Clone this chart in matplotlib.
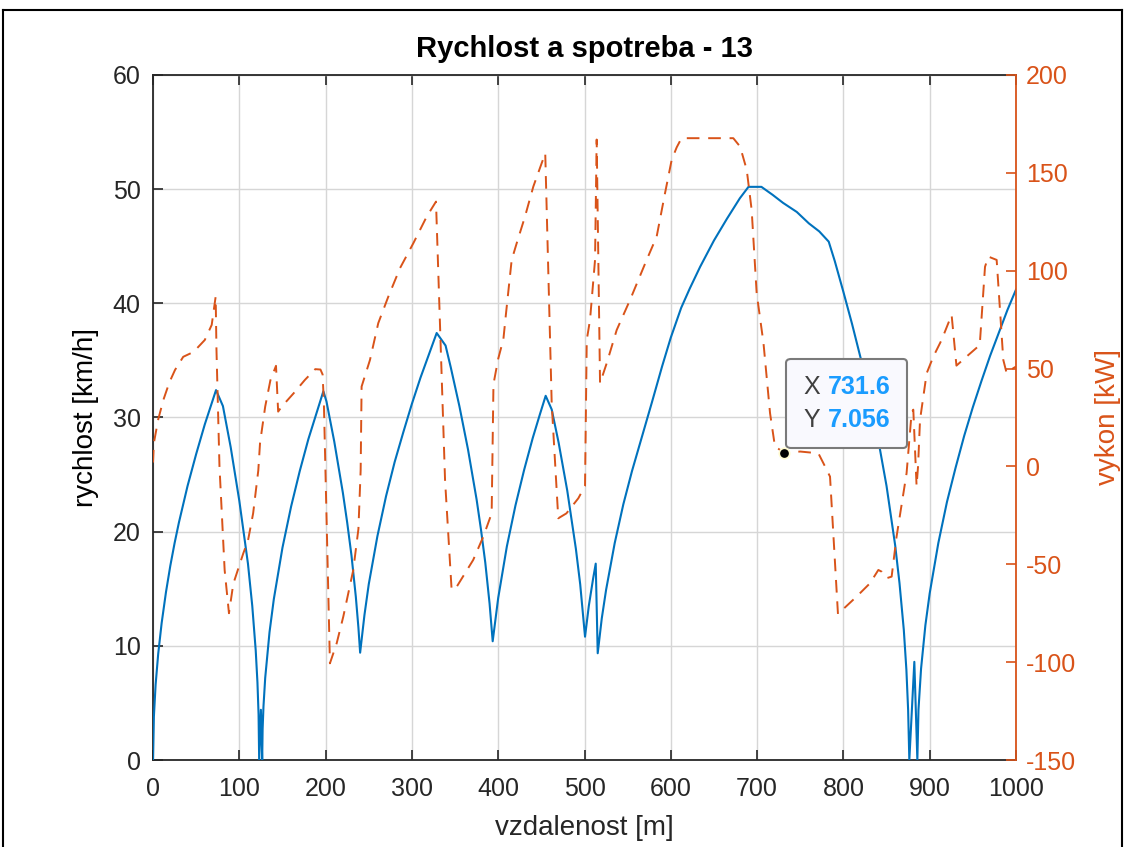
import matplotlib
matplotlib.use('Agg')
import matplotlib.pyplot as plt
from matplotlib.lines import Line2D
from matplotlib.offsetbox import TextArea, HPacker, VPacker, AnnotationBbox

plt.rcParams['font.family'] = ['Liberation Sans', 'DejaVu Sans']
plt.rcParams['axes.unicode_minus'] = False

# speed profile along the track
dist_v = [0, 1, 3, 6, 10, 15, 20, 25, 30, 40, 50, 60, 73, 81, 90, 100, 110, 115, 119, 121, 122.3, 123,
          125, 126.5, 127, 128, 130, 135, 140, 150, 160, 170, 180, 190, 197.4, 201, 210, 220, 225, 230,
          235, 238, 240, 245, 250, 260, 270, 280, 290, 300, 310, 320, 328.7, 339, 345, 355, 365, 375,
          380, 385, 390, 393.6, 400, 410, 420, 430, 440, 448, 455, 462, 470, 480, 490, 495, 500.6, 505,
          510, 513, 515.3, 520, 525, 535, 545, 555, 565, 578, 590, 600, 612, 622, 634, 650, 665, 680,
          690, 705, 718, 730, 746, 760, 772, 783, 790, 800, 810, 820, 830, 840, 850, 860, 865, 870, 873,
          875, 876.4, 882.2, 885.7, 887, 890, 895, 900, 910, 920, 930, 940, 950, 960, 970, 980, 990, 1000]
speed = [0, 3.8, 6.6, 9.3, 12.0, 14.7, 17.0, 19.0, 20.8, 24.0, 26.8, 29.4, 32.4, 31.0, 27.4, 22.7, 17.2,
         13.5, 9.6, 6.8, 4.0, 0, 4.4, 0, 2.7, 4.7, 7.2, 11.2, 14.1, 18.6, 22.2, 25.3, 28.1, 30.5, 32.3,
         31.4, 27.9, 23.4, 20.8, 17.9, 14.3, 11.6, 9.4, 12.7, 15.4, 19.6, 23.1, 26.1, 28.7, 31.2, 33.5,
         35.6, 37.4, 36.3, 34.4, 31.0, 27.2, 22.8, 20.2, 17.3, 13.7, 10.4, 14.2, 18.7, 22.3, 25.4, 28.2,
         30.2, 31.9, 30.7, 27.8, 23.6, 18.5, 15.4, 10.8, 13.5, 15.9, 17.2, 9.35, 12.4, 14.9, 19.0, 22.4,
         25.3, 27.9, 31.3, 34.5, 37.0, 39.6, 41.3, 43.2, 45.5, 47.4, 49.2, 50.2, 50.2, 49.5, 48.8, 48.0,
         47.0, 46.3, 45.4, 43.7, 41.0, 38.2, 35.2, 31.9, 28.2, 24.0, 18.8, 15.5, 11.4, 7.9, 4.4, 0, 8.6,
         0, 4.4, 8.0, 11.8, 14.6, 19.0, 22.6, 25.6, 28.4, 30.9, 33.2, 35.4, 37.4, 39.4, 41.2]

# power along the track
dist_p = [0, 1, 6, 12, 19, 25.5, 35, 47, 60, 68, 72.6, 73.5, 77, 83, 88, 93, 104.6, 110, 116, 122, 124,
          130, 136, 142.5, 145, 149, 163, 176, 188, 194, 196.5, 198, 205, 212.8, 220.5, 232, 238, 240.6,
          241.7, 251.4, 261, 272.7, 286.2, 301.6, 317.1, 327.9, 338.4, 346, 352, 371, 382.7, 392.4, 394.5,
          400, 406, 409, 415.6, 421.4, 431, 440.7, 448, 454.5, 462, 469.6, 479, 492.8, 500.6, 502.6,
          506.4, 512.2, 514.1, 518, 525.7, 537.3, 552.7, 572, 583.6, 593.3, 601, 606.8, 612.4, 672.4,
          680.3, 688, 693.7, 699.5, 707.4, 715, 720.7, 731.6, 750, 771, 778.7, 784.5, 793.7, 815.3,
          830.8, 840.5, 844.4, 850.2, 855.9, 861.6, 873.2, 879, 881, 884.8, 886.5, 888.8, 896.5, 904.2,
          913.8, 925.4, 931, 945, 958, 964.1, 968, 977.6, 985.3, 989.2, 996.9, 1000]
power = [2, 12, 24, 34, 43, 49.3, 56, 58.5, 64.6, 72.3, 86.8, 60, 0, -53, -75, -60, -44.4, -38, -24, -2,
         12, 30.6, 44, 51.4, 28, 30.5, 37.4, 44.2, 49.7, 49.5, 47, 32, -100.6, -90.4, -76.7, -53, -32, -2,
         40.8, 54.4, 73.2, 86.8, 101.3, 114, 127.6, 135.3, -7, -63, -61.4, -47.8, -35.9, -24, 42, 55, 65,
         78, 105.5, 114, 127.6, 143, 152, 160, 32, -26.5, -24, -16.3, -10, 64.6, 74.9, 105.5, 167, 42.5,
         52.7, 69.7, 85, 105.5, 117.4, 139.6, 156.6, 163, 167.7, 167.7, 163.4, 151.5, 131, 88.5, 63,
         27.2, 10.1, 7.056, 7.6, 6.7, 0, -5.2, -75.4, -66.5, -59.7, -52.9, -53.8, -57.1, -56.3, -35.9,
         -3.5, 27.2, 29, -10, 0, 23.8, 47.6, 56.1, 64.6, 77.4, 51.5, 57, 62, 102, 107.2, 105.5, 54.4,
         47.6, 50.2, 51]

tip_x, tip_y = 731.6, 7.056

blue = '#0072BD'
orange = '#D95319'
dark = '#262626'

fig = plt.figure(figsize=(11.26, 8.47), dpi=100)
ax1 = fig.add_axes([0.1359, 0.1027, 0.7664, 0.8088])
ax2 = ax1.twinx()

ax1.plot(dist_v, speed, color=blue, lw=1.5, zorder=3)
ax2.plot(dist_p, power, color=orange, lw=1.4, dashes=(6.5, 4.5))

ax1.set_xlim(0, 1000)
ax1.set_ylim(0, 60)
ax2.set_ylim(-150, 200)
ax1.set_xticks(range(0, 1001, 100))
ax1.set_yticks(range(0, 61, 10))
ax2.set_yticks(range(-150, 201, 50))

ax1.grid(True, color='#d6d6d6', lw=1.0)
ax1.set_axisbelow(True)

ax1.tick_params(axis='both', direction='in', length=7, width=1.2, labelsize=18,
                colors=dark, top=True, right=False)
ax1.tick_params(axis='x', pad=12)
ax1.tick_params(axis='y', pad=9)
ax2.tick_params(axis='y', direction='in', length=7, width=1.2, labelsize=18,
                colors=orange, pad=7)

for s in ['left', 'bottom', 'top']:
    ax1.spines[s].set_color(dark)
    ax1.spines[s].set_linewidth(1.3)
ax1.spines['right'].set_visible(False)
for s in ['left', 'bottom', 'top']:
    ax2.spines[s].set_visible(False)
ax2.spines['right'].set_color(orange)
ax2.spines['right'].set_linewidth(1.3)

ax1.set_title('Rychlost a spotreba - 13', fontsize=21, fontweight='bold', color='k', pad=13)
ax1.set_xlabel('vzdalenost [m]', fontsize=20, color=dark, labelpad=10)
ax1.set_ylabel('rychlost [km/h]', fontsize=20, color='k', labelpad=10)
ax2.set_ylabel('vykon [kW]', fontsize=20, color=orange, labelpad=14)

# data tip
ax2.plot(tip_x, tip_y, 'o', ms=7.5, mfc='k', mec='#fffbd0', mew=1.2, zorder=6)
tip_font = dict(fontsize=18)
row_x = HPacker(children=[TextArea('X', textprops=dict(color='#404040', **tip_font)),
                          TextArea('%.1f' % tip_x, textprops=dict(color='#1a9cff', fontweight='bold', **tip_font))],
                align='baseline', pad=0, sep=6)
row_y = HPacker(children=[TextArea('Y', textprops=dict(color='#404040', **tip_font)),
                          TextArea('%.3f' % tip_y, textprops=dict(color='#1a9cff', fontweight='bold', **tip_font))],
                align='baseline', pad=0, sep=6)
tip_box = VPacker(children=[row_x, row_y], align='left', pad=0, sep=6)
ab = AnnotationBbox(tip_box, (tip_x, tip_y), xybox=(13.5, 15), xycoords='data',
                    boxcoords='offset points', box_alignment=(0, 0),
                    bboxprops=dict(boxstyle='round,pad=1.2,rounding_size=0.3',
                                   fc='#f9f9fe', ec='#7a7a7a', lw=1.5))
ab.set_zorder(5)
ax2.add_artist(ab)

# figure frame
fig.add_artist(Line2D([0.003, 0.003], [0, 0.988], color='k', lw=1.5, transform=fig.transFigure))
fig.add_artist(Line2D([0.003, 0.9965], [0.988, 0.988], color='k', lw=1.5, transform=fig.transFigure))
fig.add_artist(Line2D([0.9965, 0.9965], [0, 0.988], color='k', lw=1.5, transform=fig.transFigure))

fig.savefig('out.png', dpi=100)
